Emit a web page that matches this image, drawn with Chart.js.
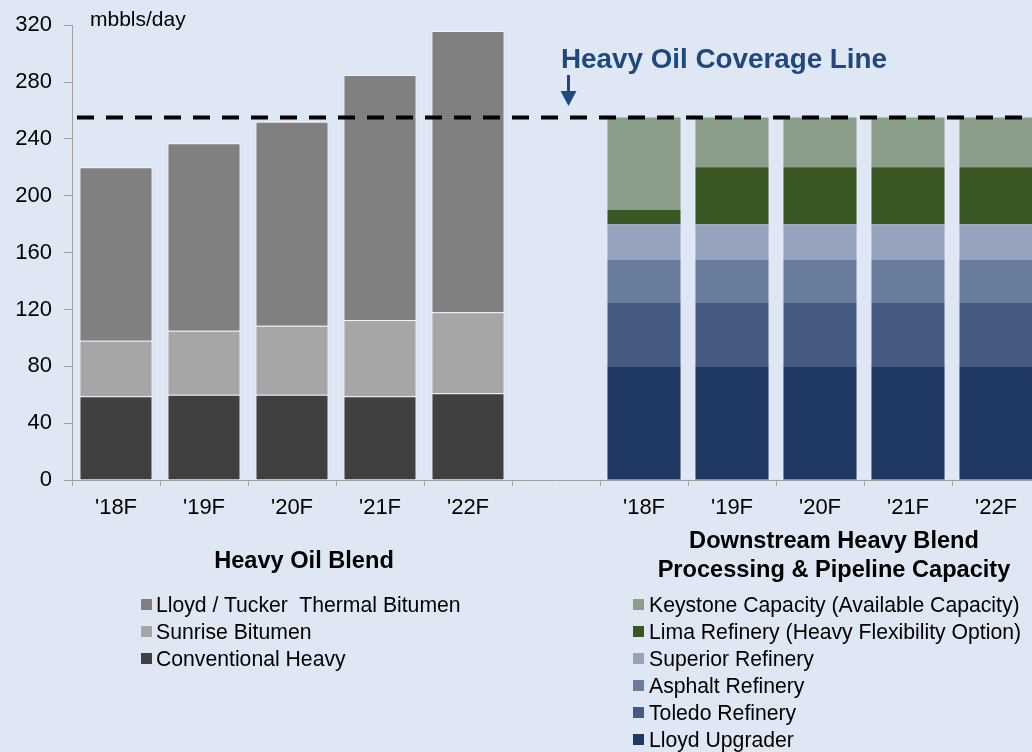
<!DOCTYPE html>
<html>
<head>
<meta charset="utf-8">
<script src="https://cdn.jsdelivr.net/npm/chart.js@4.4.0/dist/chart.umd.min.js"></script>
<style>
  html, body { margin: 0; padding: 0; width: 1032px; height: 752px; overflow: hidden;
    background: #dee7f3; font-family: "Liberation Sans", Arial, sans-serif; }
  #wrap { position: absolute; left: 0; top: 0; width: 1041px; height: 752px; }
  canvas { display: block; }
  .title { position: absolute; font-weight: bold; font-size: 23.6px; text-align: center;
    color: #000; line-height: 29.3px; }
  .legend { position: absolute; font-size: 21.2px; color: #000; }
  .legend .row { height: 27px; display: flex; align-items: center; white-space: pre; }
  .legend .sw { width: 11px; height: 11px; flex: none; }
</style>
</head>
<body>
<div id="wrap"><canvas id="chart" width="1041" height="752"></canvas></div>
<div class="title" style="left:154px; top:546px; width:300px;">Heavy Oil Blend</div>
<div class="title" style="left:634px; top:526px; width:400px;">Downstream Heavy Blend<br>Processing &amp; Pipeline Capacity</div>
<div class="legend" id="legLeft" style="left:141px; top:591px;"></div>
<div class="legend" id="legRight" style="left:633px; top:591px;"></div>
<script>
// Forecast years (same for both groups)
const years = ["'18F", "'19F", "'20F", "'21F", "'22F"];

// Heavy oil blend supply, mbbls/day
const conventionalHeavy  = [59, 60, 60, 59, 61];
const sunriseBitumen     = [39, 45, 48.5, 53.5, 57];
const lloydTuckerThermal = [122, 132, 143.5, 172.5, 198];

// Downstream processing & pipeline capacity, mbbls/day
const lloydUpgrader    = [80, 80, 80, 80, 80];
const toledoRefinery   = [45, 45, 45, 45, 45];
const asphaltRefinery  = [30, 30, 30, 30, 30];
const superiorRefinery = [25, 25, 25, 25, 25];
const limaRefinery     = [10, 40, 40, 40, 40];
const keystoneCapacity = [65, 35, 35, 35, 35];

// Heavy oil coverage threshold
const coverageLine = 255;

// Value axis
const yMin = 0, yMax = 320, yStep = 40;

// Category axis: left group, a spacer slot, right group
const categories = years.concat([""], years);
const gap = years.length + 1;
const leftSeries  = v => v.concat(new Array(gap).fill(null));
const rightSeries = v => new Array(gap).fill(null).concat(v);

const leftSets = [
  { label: "Lloyd / Tucker  Thermal Bitumen", data: lloydTuckerThermal, color: "#808080" },
  { label: "Sunrise Bitumen",                 data: sunriseBitumen,     color: "#a6a6a6" },
  { label: "Conventional Heavy",              data: conventionalHeavy,  color: "#404040" }
];
const rightSets = [
  { label: "Keystone Capacity (Available Capacity)",  data: keystoneCapacity, color: "#8a9e89" },
  { label: "Lima Refinery (Heavy Flexibility Option)", data: limaRefinery,     color: "#3a5622" },
  { label: "Superior Refinery", data: superiorRefinery, color: "#95a3bc" },
  { label: "Asphalt Refinery",  data: asphaltRefinery,  color: "#6a7d9d" },
  { label: "Toledo Refinery",   data: toledoRefinery,   color: "#475a81" },
  { label: "Lloyd Upgrader",    data: lloydUpgrader,    color: "#203864" }
];

const datasets = [];
// stack order is bottom-up, legend order is top-down
leftSets.slice().reverse().forEach(s => datasets.push({
  label: s.label, data: leftSeries(s.data), backgroundColor: s.color,
  borderColor: "#f4f4f4", borderWidth: { top: 1, left: 1, right: 1, bottom: 0 }, borderSkipped: false
}));
rightSets.slice().reverse().forEach(s => datasets.push({
  label: s.label, data: rightSeries(s.data), backgroundColor: s.color,
  borderWidth: 0
}));

// Legends as HTML rows
function buildLegend(id, sets) {
  const el = document.getElementById(id);
  sets.forEach(s => {
    const row = document.createElement("div");
    row.className = "row";
    const sw = document.createElement("span");
    sw.className = "sw";
    sw.style.background = s.color;
    sw.style.marginRight = id === "legLeft" ? "4px" : "5px";
    const tx = document.createElement("span");
    tx.textContent = s.label;
    row.appendChild(sw); row.appendChild(tx);
    el.appendChild(row);
  });
}
buildLegend("legLeft", leftSets);
buildLegend("legRight", rightSets);

const FONT = "'Liberation Sans', Arial, sans-serif";

// Coverage line, arrow and annotations
const annotations = {
  id: "annotations",
  afterDatasetsDraw(chart) {
    const { ctx, chartArea, scales } = chart;
    const y = scales.y.getPixelForValue(coverageLine);
    ctx.save();
    ctx.strokeStyle = "#000";
    ctx.lineWidth = 4;
    ctx.setLineDash([17, 12]);
    ctx.beginPath();
    ctx.moveTo(77, y);
    ctx.lineTo(chartArea.right, y);
    ctx.stroke();
    ctx.setLineDash([]);

    // unit label
    ctx.fillStyle = "#000";
    ctx.font = "21px " + FONT;
    ctx.textAlign = "left";
    ctx.textBaseline = "alphabetic";
    ctx.fillText("mbbls/day", 90, 26);

    // coverage line caption
    ctx.fillStyle = "#1f497d";
    ctx.font = "bold 27.8px " + FONT;
    ctx.fillText("Heavy Oil Coverage Line", 561, 68);

    // arrow
    const ax = 568.5;
    ctx.fillRect(ax - 1.5, 75, 3, 17);
    ctx.beginPath();
    ctx.moveTo(ax - 8, 91);
    ctx.lineTo(ax + 8, 91);
    ctx.lineTo(ax, 106);
    ctx.closePath();
    ctx.fill();
    ctx.restore();
  }
};

new Chart(document.getElementById("chart"), {
  type: "bar",
  data: { labels: categories, datasets },
  options: {
    responsive: false,
    animation: false,
    events: [],
    layout: { padding: { top: 20, left: 0, right: 1, bottom: 232 } },
    datasets: { bar: { categoryPercentage: 1, barPercentage: 0.83 } },
    plugins: { legend: { display: false }, tooltip: { enabled: false } },
    scales: {
      x: {
        stacked: true,
        afterFit(s) { s.height = 40; },
        grid: { offset: true, drawOnChartArea: false, tickLength: 6, color: "#a0a0a0" },
        border: { color: "#a0a0a0", width: 1 },
        ticks: { color: "#000", font: { family: FONT, size: 22 }, padding: 9, maxRotation: 0, autoSkip: false }
      },
      y: {
        stacked: true,
        min: yMin, max: yMax,
        afterFit(s) { s.width = 72; },
        grid: { drawOnChartArea: false, tickLength: 8, color: "#a0a0a0" },
        border: { color: "#a0a0a0", width: 1 },
        ticks: { stepSize: yStep, color: "#000", font: { family: FONT, size: 22 }, padding: 12 }
      }
    }
  },
  plugins: [annotations]
});
</script>
</body>
</html>
